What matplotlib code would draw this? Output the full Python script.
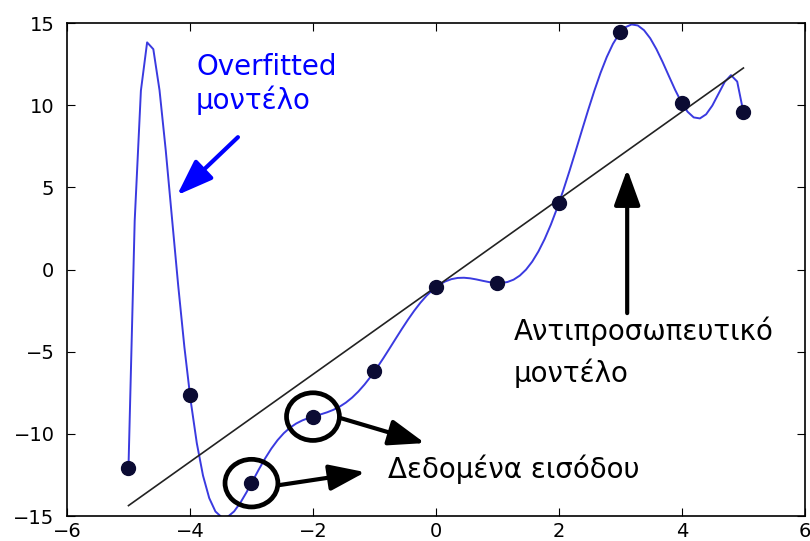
import numpy as np
import matplotlib.pyplot as plt
from matplotlib.patches import Ellipse

# input samples
x_data = np.array([-5, -4, -3, -2, -1, 0, 1, 2, 3, 4, 5])
y_data = np.array([-12.05, -7.65, -13.0, -8.95, -6.2, -1.07, -0.82, 4.05, 14.45, 10.13, 9.58])

# degree-10 polynomial goes through every sample (overfit), degree 1 is the trend line
over_coef = np.polyfit(x_data, y_data, 10)
lin_coef = np.polyfit(x_data, y_data, 1)
xs = np.linspace(-5, 5, 100)

fig = plt.figure(figsize=(8.1, 5.41), dpi=100)
ax = fig.add_axes([0.0827, 0.0462, 0.911, 0.911])

ax.plot(xs, np.polyval(over_coef, xs), color='#3a3ae0', lw=1.4)
ax.plot(x_data, np.polyval(lin_coef, x_data), color='#222222', lw=1.2)
ax.plot(x_data, y_data, 'o', color='#0b0b33', markersize=10)

ax.set_xlim(-6, 6)
ax.set_ylim(-15, 15)
ax.set_xticks(np.arange(-6, 7, 2))
ax.set_yticks(np.arange(-15, 16, 5))
ax.tick_params(direction='in', top=True, right=True, labelsize=14, length=6)
ax.tick_params(axis='x', pad=4)
ax.tick_params(axis='y', pad=9)
for s in ax.spines.values():
    s.set_linewidth(1.2)

arrow_kw = dict(arrowstyle='-|>,head_width=0.4,head_length=1.1', lw=3,
                color='black', shrinkA=0, shrinkB=0, mutation_scale=20)

# overfitted label (y is the baseline of the last line)
ax.text(-3.9, 9.77, 'Overfitted\nμοντέλο', color='blue', fontsize=20,
        ha='left', va='baseline', linespacing=1.2)
ax.annotate('', xy=(-4.21, 4.53), xytext=(-3.22, 8.06),
            arrowprops=dict(arrow_kw, color='blue'))

# trend line label
ax.text(1.27, -6.85, 'Αντιπροσωπευτικό\nμοντέλο', color='black', fontsize=20,
        ha='left', va='baseline', linespacing=1.55)
ax.annotate('', xy=(3.11, 6.11), xytext=(3.11, -2.65), arrowprops=arrow_kw)

# input data label with circled samples
ax.text(-0.78, -12.69, 'Δεδομένα εισόδου', color='black', fontsize=20,
        ha='left', va='baseline')
for i in (2, 3):
    ax.add_patch(Ellipse((x_data[i], y_data[i]), 0.86, 2.9, fill=False,
                         lw=3.4, ec='black', clip_on=False, zorder=5))
ax.annotate('', xy=(-1.15, -12.33), xytext=(-2.55, -13.12), arrowprops=arrow_kw)
ax.annotate('', xy=(-0.18, -10.56), xytext=(-1.55, -9.04), arrowprops=arrow_kw)

fig.savefig('out.png', dpi=100)
